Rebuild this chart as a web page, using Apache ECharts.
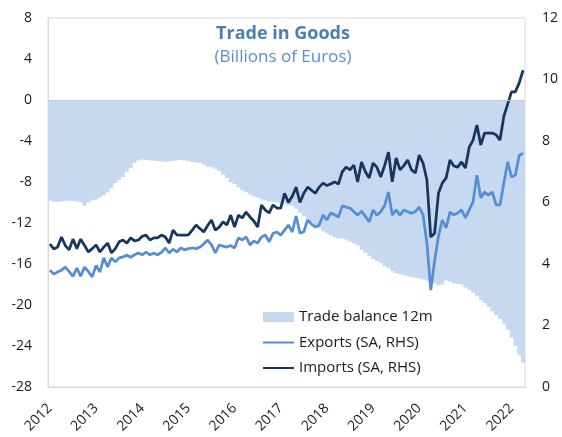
<!DOCTYPE html>
<html>
<head>
<meta charset="utf-8">
<script src="https://cdn.jsdelivr.net/npm/echarts@6/dist/echarts.min.js"></script>
<style>
  html, body { margin: 0; padding: 0; background: #fff; }
  #chart { width: 562px; height: 437px; }
</style>
</head>
<body>
<div id="chart"></div>
<script>
// ---- Data (monthly, Jan 2012 – Apr 2022) ----
const years = ['2012','2013','2014','2015','2016','2017','2018','2019','2020','2021','2022'];
const monthsInLastYear = 4;

// Trade balance, 12-month (left axis, billions of euros)
const tradeBalance = [
  -9.8,-9.9,-9.95,-9.9,-9.85,-9.8,-9.85,-9.9,-10.0,-10.35,-10.0,-9.8,
  -9.7,-9.5,-9.3,-9.0,-8.6,-8.1,-7.8,-7.5,-7.0,-6.6,-6.15,-5.9,
  -5.8,-5.85,-5.9,-5.9,-5.95,-6.0,-6.05,-6.0,-5.95,-5.9,-5.85,-5.9,
  -5.95,-6.05,-6.1,-6.15,-6.3,-6.5,-6.55,-6.7,-6.9,-7.3,-7.6,-8.0,
  -8.2,-8.5,-8.8,-9.0,-9.2,-9.4,-9.5,-9.7,-9.8,-9.9,-9.95,-10.0,
  -10.1,-10.2,-10.3,-10.3,-10.6,-11.0,-11.3,-11.6,-11.9,-12.2,-12.5,-12.8,
  -13.0,-13.2,-13.4,-13.5,-13.5,-13.6,-13.8,-14.0,-14.2,-14.6,-14.9,-15.2,
  -15.5,-15.7,-15.9,-16.2,-16.4,-16.7,-16.9,-17.0,-17.1,-17.2,-17.3,-17.35,
  -17.4,-17.5,-17.6,-17.75,-17.9,-18.1,-18.0,-17.6,-17.7,-17.9,-17.95,-18.0,
  -18.3,-18.5,-18.8,-19.1,-19.5,-19.8,-20.2,-20.6,-21.0,-21.4,-21.8,-22.4,
  -23.2,-24.0,-24.9,-25.6
];

// Exports, seasonally adjusted (right axis)
const exportsSA = [
  3.8,3.67,3.74,3.8,3.9,3.75,3.6,3.87,3.6,3.9,3.75,3.58,
  3.95,3.74,4.2,3.9,4.2,4.07,4.2,4.23,4.29,4.22,4.3,4.36,
  4.3,4.39,4.3,4.35,4.3,4.38,4.52,4.36,4.48,4.39,4.52,4.46,
  4.5,4.52,4.5,4.55,4.65,4.78,4.62,4.36,4.62,4.58,4.55,4.6,
  4.52,4.85,4.78,4.88,4.62,4.75,4.68,4.88,4.94,4.72,5.0,5.04,
  4.94,5.1,5.27,5.04,5.56,5.0,5.05,5.43,5.3,5.2,5.27,5.59,
  5.43,5.66,5.6,5.53,5.89,5.85,5.82,5.7,5.59,5.72,5.55,5.37,
  5.76,5.59,5.7,5.9,6.34,5.59,5.76,5.59,5.76,5.7,5.65,5.7,
  5.85,5.6,4.68,3.15,4.1,4.9,5.43,5.17,5.69,5.6,5.66,5.76,
  5.5,5.76,6.02,6.89,6.15,6.34,6.24,6.34,5.92,5.92,6.63,7.32,
  6.83,6.89,7.54,7.6
];

// Imports, seasonally adjusted (right axis)
const importsSA = [
  4.65,4.49,4.55,4.88,4.6,4.46,4.81,4.5,4.81,4.6,4.39,4.5,
  4.62,4.39,4.55,4.68,4.36,4.5,4.72,4.78,4.68,4.85,4.75,4.78,
  4.9,4.94,4.78,4.85,4.85,4.94,4.88,4.68,5.1,4.95,4.94,4.94,
  4.95,5.1,5.27,5.15,5.04,5.25,5.43,5.1,5.2,5.37,5.27,5.59,
  5.2,5.59,5.5,5.69,5.53,5.4,5.2,5.92,5.75,5.66,5.92,5.82,
  5.82,6.3,6.0,6.2,6.5,6.0,6.3,6.5,6.4,6.3,6.5,6.63,
  6.55,6.6,6.67,6.6,7.0,7.15,7.06,7.22,6.67,7.32,7.0,6.8,
  7.28,7.15,6.83,7.2,7.64,6.67,7.45,7.06,7.2,7.38,7.06,6.96,
  7.54,7.28,6.73,4.88,5.0,6.3,6.63,6.8,7.38,7.19,7.15,7.32,
  7.12,7.8,8.03,8.52,7.87,8.26,8.26,8.26,8.2,8.03,8.8,9.2,
  9.6,9.6,9.89,10.3
];

// ---- Categories (one per month) ----
const categories = [];
years.forEach((y, k) => {
  const n = (k === years.length - 1) ? monthsInLastYear : 12;
  for (let m = 1; m <= n; m++) categories.push(y + '-' + String(m).padStart(2, '0'));
});

const FONT = '"Open Sans", "Noto Sans", sans-serif';
const AREA = '#c6d9f0';
const EXP = '#558ed5';
const IMP = '#17365d';
const chart = echarts.init(document.getElementById('chart'), null, { renderer: 'canvas' });

chart.setOption({
  animation: false,
  backgroundColor: '#ffffff',
  title: {
    text: 'Trade in Goods',
    subtext: '(Billions of Euros)',
    left: 283,
    top: 25,
    textAlign: 'center',
    padding: 0,
    itemGap: 6,
    textStyle: { fontFamily: FONT, fontSize: 18, fontWeight: 'bold', color: '#4a7fb6' },
    subtextStyle: { fontFamily: FONT, fontSize: 17, color: '#5a8fc8' }
  },
  legend: {
    orient: 'vertical',
    left: 262,
    top: 309,
    padding: 0,
    itemWidth: 31,
    itemHeight: 10,
    itemGap: 9.5,
    textStyle: { fontFamily: FONT, fontSize: 15, color: '#1a1a1a', lineHeight: 16 },
    data: [
      { name: 'Trade balance 12m', icon: 'rect' },
      { name: 'Exports (SA, RHS)', itemStyle: { opacity: 0 } },
      { name: 'Imports (SA, RHS)', itemStyle: { opacity: 0 } }
    ]
  },
  grid: {
    left: 48, right: 37, top: 18, bottom: 50,
    show: true, borderColor: '#d9d9d9', borderWidth: 1, backgroundColor: 'transparent'
  },
  xAxis: {
    type: 'category',
    data: categories,
    boundaryGap: true,
    axisLine: { onZero: false, lineStyle: { color: '#d9d9d9' } },
    axisTick: { show: false },
    axisLabel: {
      interval: (i) => i % 12 === 0,
      formatter: (v) => v.slice(0, 4),
      rotate: 45,
      margin: 19,
      fontFamily: FONT, fontSize: 14, color: '#1a1a1a'
    },
    splitLine: { show: false }
  },
  yAxis: [
    {
      type: 'value', min: -28, max: 8, interval: 4,
      axisLine: { show: true, lineStyle: { color: '#d9d9d9' } },
      axisTick: { show: false },
      splitLine: { show: false },
      axisLabel: { margin: 16, fontFamily: FONT, fontSize: 14, color: '#1a1a1a' }
    },
    {
      type: 'value', min: 0, max: 12, interval: 2,
      position: 'right',
      axisLine: { show: false },
      axisTick: { show: false },
      splitLine: { show: false },
      axisLabel: { margin: 17, fontFamily: FONT, fontSize: 14, color: '#1a1a1a' }
    }
  ],
  series: [
    {
      name: 'Trade balance 12m',
      type: 'bar',
      yAxisIndex: 0,
      data: tradeBalance,
      barWidth: '100%',
      barCategoryGap: '0%',
      large: true,
      largeThreshold: 10,
      itemStyle: { color: AREA },
      markLine: {
        silent: true,
        symbol: 'none',
        label: { show: false },
        lineStyle: { color: '#c8c8c8', width: 1, type: 'solid' },
        data: [{ yAxis: 0 }]
      },
      z: 1
    },
    {
      name: 'Exports (SA, RHS)',
      type: 'line',
      yAxisIndex: 1,
      data: exportsSA,
      symbol: 'none',
      itemStyle: { color: EXP },
      lineStyle: { color: EXP, width: 2.75 },
      z: 3
    },
    {
      name: 'Imports (SA, RHS)',
      type: 'line',
      yAxisIndex: 1,
      data: importsSA,
      symbol: 'none',
      itemStyle: { color: IMP },
      lineStyle: { color: IMP, width: 2.75 },
      z: 4
    }
  ]
});
</script>
</body>
</html>
